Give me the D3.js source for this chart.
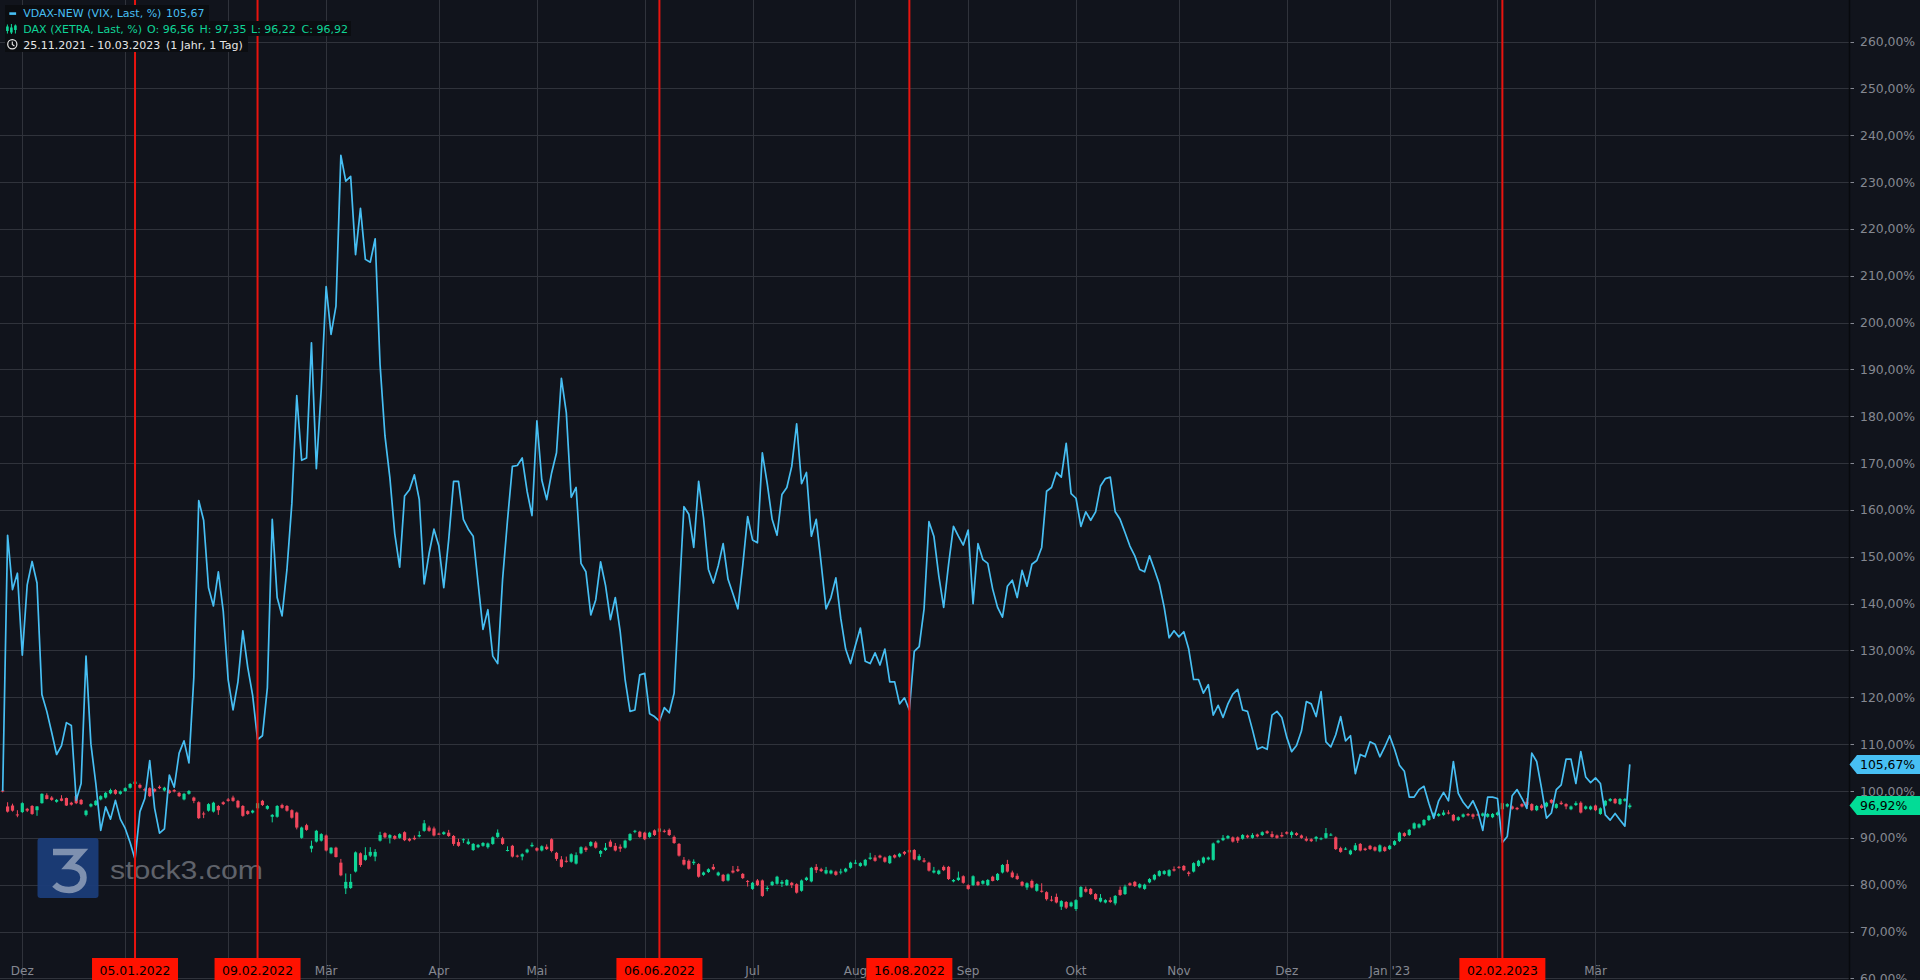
<!DOCTYPE html>
<html><head><meta charset="utf-8">
<script src="https://cdn.jsdelivr.net/npm/d3@7"></script>
<style>
html,body{margin:0;padding:0;background:#11141c;overflow:hidden}
svg{display:block}
text{font-family:"DejaVu Sans",sans-serif}
</style></head><body>
<svg id="chart" width="1920" height="980"></svg>
<script>
// ---------------- data ----------------
const tradingStart = "2021-11-25", tradingEnd = "2023-03-10";
const closedDays = ["2021-12-24","2021-12-31","2022-04-15","2022-12-26"];
const monthTickDates = ["2021-12-01","2022-01-03","2022-02-01","2022-03-01","2022-04-01","2022-05-02","2022-06-01","2022-07-01","2022-08-01","2022-09-01","2022-10-03","2022-11-01","2022-12-01","2023-01-02","2023-02-01","2023-03-01"];
const monthTickLabels = ["Dez","Jan","Feb","Mär","Apr","Mai","Jun","Jul","Aug","Sep","Okt","Nov","Dez","Jan '23","Feb","Mär"];
const markerDates = ["2022-01-05","2022-02-09","2022-06-06","2022-08-16","2023-02-02"];
const markerLabels = ["05.01.2022","09.02.2022","06.06.2022","16.08.2022","02.02.2023"];
const yTicks = [60,70,80,90,100,110,120,130,140,150,160,170,180,190,200,210,220,230,240,250,260];

const vdax = [100.0,154.6,143,146.5,129,144,149,144.4,120.6,117,112.5,107.8,109.7,114.6,114,98,101.6,128.8,110,101.6,
91.6,96.6,94,98,94,92,89,85.4,95.6,98.4,106.5,96.3,91,91.9,103.4,100.8,108.1,110.7,106,124.3,
162,157.8,143.4,139.5,146.8,138.4,123.8,117.3,123.3,134.2,126.4,120.4,111,111.8,122,158,141.3,137.4,147.3,161.4,
184.4,170.6,171.1,195.7,168.8,185.8,207.7,197.5,203.5,235.7,230.2,231.2,214.5,224.4,213.5,212.9,217.9,191,175.8,166.9,
154.9,147.8,163,164.3,167.5,162.2,144.2,150.7,155.9,152.3,143.4,153.6,166.1,166.1,158,155.9,154.4,144.4,134.5,138.7,
128.8,127.2,145.2,157.8,169.3,169.5,171.1,164,158.8,179,166.4,162.2,167.9,172.2,188.1,180.8,162.7,164.8,148.6,146.8,
137.6,140.8,148.9,143.9,136.6,141.3,134,123.8,117,117.3,124.8,125.1,116.5,115.9,114.9,117.8,116.7,120.9,141,160.7,
159.1,152,166.1,158.3,147.3,144.4,148.1,152.8,145.2,142.1,138.9,148.1,158.6,153.6,153,172.2,165.6,158,154.6,163.3,
164.8,169.3,178.4,165.6,168,154.4,158,148.6,138.9,141.3,145.5,136.9,130.3,127.2,131.1,134.8,127.7,127.2,129.5,126.9,
130.3,123.3,123.3,118.6,119.9,117.3,129.8,130.8,138.9,157.5,154.4,146,139.2,148.4,156.5,154.4,152.5,155.7,140,152.8,
149.4,148.6,143.1,139.2,137.1,143.7,145,141.3,147.1,143.7,148.4,149.2,152,164,164.8,168,167,174.2,163.5,162.5,
156.5,159.6,157.8,159.6,165.1,166.7,167,159.6,158,155.2,152.3,150.2,147.3,146.8,150.2,147.3,144.2,139.2,132.7,134.2,
132.9,134,130.3,123.8,123.8,120.9,122.7,116.2,118.3,115.7,118.6,120.7,121.7,117.3,117,113.1,108.9,109.4,108.9,116.2,
117,115.7,111.5,108.4,109.7,112.8,119.1,118.6,115.9,121.2,110.5,109.4,112,115.9,110.7,111.8,103.7,107.8,107.3,110.5,
110,107.3,109.4,111.8,108.9,105.5,104.2,98.7,98.7,100.3,101,97.4,94.2,97.9,99.7,97.9,106.3,99.5,97.6,96.3,
97.9,95.6,91.6,98.7,98.7,98.4,89,90.3,99,100.3,98.4,96.3,108.1,106.3,100.5,94.2,95.3,100.3,101.3,106.8,
106.8,101.6,108.4,103,101.8,102.8,101.6,94.9,93.8,95.2,93.8,92.5,105.67];

const daxOpen = [100.1,96.7,96.9,95.0,95.5,96.2,96.8,95.9,97.4,99.1,98.6,97.7,98.4,98.5,97.5,98.9,98.1,94.9,96.7,97.0,
98.2,98.6,99.5,100.2,99.4,100.0,100.7,101.5,101.3,100.4,100.6,100.4,100.9,100.1,100.1,100.2,99.6,98.2,99.4,98.6,
97.6,95.2,95.8,95.6,96.8,97.6,98.2,98.6,97.9,96.8,95.7,95.4,96.3,97.9,96.2,94.5,94.5,97.0,96.8,95.9,
95.4,90.0,92.7,87.7,89.2,89.4,90.5,86.7,87.9,84.7,79.2,79.3,82.8,86.7,85.3,86.2,86.0,89.4,91.0,90.0,
90.4,90.0,91.2,89.8,90.0,90.3,91.5,92.2,92.0,90.9,90.8,91.1,90.4,89.1,89.5,88.7,87.4,88.0,88.3,88.0,
88.7,90.2,89.9,87.3,88.3,86.2,86.0,86.9,88.2,87.8,87.3,88.1,89.7,86.8,85.4,85.1,84.9,84.5,86.7,87.9,
88.3,89.0,86.6,87.4,89.2,88.3,88.1,87.9,89.5,91.3,91.3,91.1,90.2,91.6,91.3,91.5,91.7,90.2,88.7,85.3,
85.1,84.6,84.4,82.1,82.7,83.8,82.0,82.1,80.9,83.0,83.3,82.3,80.8,79.1,80.9,80.9,79.1,79.9,80.2,80.2,
79.9,80.4,80.1,78.7,81.0,80.7,83.8,83.3,82.4,82.4,82.8,82.6,82.8,83.6,84.6,84.0,84.1,85.5,85.8,86.2,
85.8,84.6,86.3,86.0,87.0,86.9,87.4,85.3,85.2,84.7,82.6,82.3,83.8,83.8,80.7,81.0,81.8,79.9,79.9,80.6,
80.2,79.9,81.7,81.0,82.6,84.4,82.6,81.9,80.6,79.4,80.8,78.7,78.7,78.4,76.8,77.4,75.3,76.3,75.4,74.8,
77.4,79.1,79.1,78.0,76.4,76.2,76.7,76.0,78.9,78.0,80.3,80.6,79.4,79.1,80.5,81.1,81.9,82.3,81.9,83.3,
83.8,84.0,82.6,82.8,84.0,84.7,85.4,85.3,89.0,89.5,89.9,90.1,90.1,89.8,90.5,90.0,90.7,90.6,91.4,90.8,
90.5,90.6,91.2,90.6,91.0,90.5,89.8,89.7,89.8,89.7,90.0,90.6,90.1,87.8,87.6,86.5,87.4,88.7,87.7,88.3,
88.0,87.1,88.0,87.6,88.5,89.3,91.0,90.6,92.0,92.2,92.7,93.8,94.7,94.7,94.9,95.4,94.9,93.8,94.5,95.1,
95.0,95.0,94.7,94.5,94.4,94.9,96.1,96.7,96.7,96.4,97.2,97.7,97.2,95.9,96.9,96.7,98.1,96.4,97.5,97.2,
96.1,97.0,97.5,96.2,96.1,96.9,95.1,96.9,97.9,98.3,97.2,97.9,96.56];

const daxHigh = [100.3,97.6,97.3,95.9,97.6,96.4,97.0,96.8,99.5,99.5,98.9,98.3,99.1,98.6,97.7,99.2,98.3,96.0,97.4,98.1,
99.1,99.8,100.5,100.4,100.1,100.8,101.7,102.2,101.6,100.7,100.8,100.6,101.2,100.9,100.3,100.4,99.8,99.6,100.2,98.8,
97.8,95.6,97.4,97.7,97.0,97.8,98.5,99.0,98.1,97.0,95.9,96.0,97.6,98.1,97.0,95.1,97.0,97.3,97.0,96.1,
95.6,92.4,93.0,89.4,91.7,91.0,90.7,88.0,88.1,85.5,82.4,82.3,87.1,86.9,88.0,88.0,87.6,91.3,91.2,90.8,
90.6,91.0,91.4,90.0,90.5,91.4,93.8,92.6,92.4,91.1,91.4,91.7,90.6,89.8,89.9,89.8,88.9,88.7,89.1,89.0,
90.3,91.8,90.2,88.2,88.5,86.4,86.7,87.7,89.0,88.0,88.4,88.6,89.9,87.0,86.1,86.0,86.7,86.9,88.2,88.2,
89.3,89.3,87.4,88.9,89.6,88.9,88.6,89.6,91.0,91.7,91.5,91.3,91.3,91.8,92.2,91.8,92.0,90.5,88.9,85.9,
85.4,85.4,84.6,82.8,83.5,84.4,82.8,82.3,82.4,84.0,84.0,82.5,81.0,80.6,81.2,81.1,79.7,80.8,81.9,81.0,
81.2,80.6,80.3,81.1,81.7,83.8,84.4,83.6,83.8,83.2,83.0,83.4,83.6,84.9,85.3,84.8,85.5,86.8,86.3,86.4,
86.0,86.3,86.5,86.8,87.2,87.6,87.6,86.5,85.7,84.9,83.8,83.2,84.1,84.0,81.2,82.8,82.0,80.1,82.0,80.8,
81.0,81.2,81.9,82.5,84.4,85.3,83.0,82.4,80.8,80.5,81.1,80.3,80.3,78.6,77.6,78.1,76.7,76.5,76.4,76.9,
79.7,79.6,79.3,78.2,78.0,76.9,77.3,77.8,79.6,80.0,80.5,80.8,80.3,80.2,81.4,82.3,83.1,83.1,83.3,83.9,
84.0,84.2,82.9,84.8,85.3,86.0,86.0,89.0,89.6,90.6,90.6,90.3,90.3,90.8,90.7,91.0,90.9,91.4,91.6,91.4,
90.7,91.2,91.4,91.5,91.2,90.7,90.3,89.9,90.4,90.1,92.1,91.0,90.3,88.1,88.0,87.5,88.9,88.9,87.9,88.5,
88.2,88.6,88.2,88.5,89.5,91.3,91.2,91.9,93.3,93.1,94.0,94.9,95.4,95.3,95.9,95.9,95.1,94.6,95.2,95.3,
95.2,95.2,95.4,95.3,95.3,95.6,97.6,97.4,96.9,96.6,97.4,98.5,97.4,97.0,97.2,97.7,98.3,97.4,97.9,97.4,
96.9,97.8,97.8,96.9,96.9,97.1,96.5,98.1,98.5,98.5,98.5,98.5,97.35];

const daxLow = [99.7,95.4,95.6,94.4,95.3,95.5,94.9,94.7,97.3,98.2,97.9,97.5,97.8,96.8,96.9,97.2,97.0,94.6,96.5,96.8,
98.0,98.4,99.3,99.2,99.2,99.8,100.5,101.3,100.5,99.9,98.7,99.7,100.4,99.9,99.4,99.7,98.7,98.0,99.2,97.4,
94.0,94.2,95.6,95.4,94.9,97.0,97.7,97.7,96.3,94.5,94.9,95.2,96.1,96.8,96.0,93.3,94.3,96.2,95.6,94.1,
91.8,89.8,91.5,86.9,89.0,89.2,87.1,86.5,85.8,81.8,78.0,79.1,82.6,83.8,85.1,85.9,85.0,89.2,89.9,88.8,
89.6,89.8,89.3,89.2,89.5,90.1,91.3,91.3,90.3,90.6,90.6,90.2,88.3,88.1,88.9,88.5,87.2,87.8,88.1,87.7,
88.5,90.0,88.5,87.1,85.8,85.8,85.2,86.7,88.0,87.1,87.1,87.4,86.9,85.1,83.6,84.7,84.7,84.3,86.5,87.0,
88.1,87.7,85.9,87.2,88.0,87.1,87.0,87.7,89.3,91.0,90.0,89.5,90.0,90.4,91.1,91.1,90.4,88.7,86.0,84.1,
83.2,84.2,81.5,81.9,82.5,83.1,81.8,80.6,80.7,82.4,82.7,81.2,79.6,78.9,79.7,77.4,78.6,79.7,80.0,79.5,
79.7,79.3,78.1,78.5,80.8,80.5,82.5,82.7,82.2,82.2,81.9,82.2,82.6,83.4,84.4,83.8,83.9,85.3,84.9,85.6,
84.7,84.4,85.6,85.8,86.3,86.7,85.2,85.1,84.7,82.8,82.4,82.1,82.9,81.0,80.5,80.8,80.2,78.9,79.7,79.7,
80.0,79.7,80.7,80.8,82.4,82.6,81.4,81.0,79.6,78.9,79.2,78.5,78.3,76.6,76.4,76.0,74.6,74.8,75.2,74.4,
77.2,78.3,77.8,76.7,76.2,76.0,76.1,75.6,77.6,77.8,79.7,79.5,79.2,78.9,80.3,80.9,81.7,82.1,81.7,82.8,
83.4,82.9,81.8,82.6,83.8,84.5,85.2,85.1,88.8,89.3,89.7,89.0,88.9,89.6,89.9,89.8,90.1,90.4,90.8,90.0,
89.8,90.1,90.7,90.0,90.4,89.8,89.2,89.1,89.2,89.5,89.8,90.4,87.4,86.8,87.4,86.3,87.2,87.1,87.2,87.4,
87.1,86.9,87.0,87.4,88.3,89.1,90.2,90.4,91.8,92.0,92.5,93.6,94.5,94.5,94.7,95.0,93.5,93.6,94.3,94.6,
94.0,94.7,94.5,94.3,94.2,94.7,95.9,96.5,96.0,95.9,96.5,96.8,95.7,95.7,96.2,96.5,97.3,96.2,97.0,96.1,
95.9,96.8,95.2,96.0,95.9,95.7,94.9,96.7,97.7,97.2,97.0,97.7,96.22];

const daxClose = [100.0,95.6,95.8,94.9,97.4,95.8,95.1,96.7,99.4,98.3,98.1,98.1,97.9,96.9,97.1,97.4,97.2,95.8,97.2,97.9,
98.9,99.6,100.2,99.4,99.9,100.6,101.5,102.0,100.7,100.1,98.9,99.9,100.6,100.7,99.6,99.9,98.9,99.4,100.0,97.9,
94.2,95.0,97.2,97.5,95.9,97.2,97.9,97.9,96.5,94.7,95.1,95.8,97.4,97.0,96.8,94.9,96.8,96.4,95.8,94.3,
92.2,92.2,91.7,88.3,91.5,90.8,87.3,87.9,85.9,82.0,80.6,80.6,86.9,84.2,86.3,87.0,87.0,90.6,90.1,90.6,
89.8,90.8,89.5,89.4,89.7,90.6,93.1,91.5,90.5,90.8,91.2,90.4,88.7,88.3,89.7,89.2,88.7,88.5,88.9,88.8,
90.1,91.1,88.7,87.4,86.0,86.0,86.5,87.5,88.5,87.3,88.2,87.6,87.2,85.5,83.8,84.9,86.5,86.3,88.0,87.4,
89.1,87.9,87.2,87.9,88.1,87.3,87.7,89.4,90.8,91.5,90.2,89.7,91.1,90.6,92.0,91.3,90.6,88.9,86.2,84.3,
83.4,84.9,81.7,82.6,83.3,83.3,82.6,80.8,82.2,82.6,82.9,81.4,80.6,80.4,79.9,77.6,79.3,80.6,81.7,80.6,
81.0,79.9,78.3,80.9,81.5,83.6,83.1,82.9,83.1,83.0,82.1,82.8,83.4,84.7,84.7,84.6,85.3,85.8,85.1,85.8,
84.9,86.1,85.8,86.6,86.6,87.4,85.4,86.1,84.9,83.0,83.0,83.0,83.1,81.2,81.0,81.5,80.4,79.1,81.8,79.9,
80.8,81.0,80.8,82.3,84.2,82.8,81.6,81.2,79.8,80.3,79.4,80.1,78.5,76.9,76.6,76.2,76.5,75.1,76.2,76.7,
79.5,78.5,78.0,76.9,77.2,76.7,76.3,77.6,77.8,79.6,79.9,79.7,80.1,80.0,81.2,82.1,82.9,82.9,83.1,83.0,
83.6,83.1,82.3,84.6,85.1,85.8,85.8,88.8,89.4,90.0,90.4,89.2,89.4,90.6,90.1,90.6,90.3,91.2,91.0,90.2,
90.0,90.3,90.9,91.2,90.6,90.0,89.4,89.3,90.2,89.9,91.0,90.7,87.6,87.0,87.7,87.3,88.4,87.3,87.4,87.6,
87.3,88.4,87.2,88.3,89.3,91.1,90.4,91.7,93.1,92.9,93.8,94.7,95.2,95.1,95.4,95.2,93.7,94.4,95.0,94.8,
94.5,94.9,95.2,95.1,95.1,95.4,97.4,97.2,96.2,96.1,96.7,97.0,95.9,96.8,96.4,97.5,97.5,97.2,97.2,96.7,
96.7,97.4,95.4,96.7,96.7,95.9,96.3,97.9,98.3,97.4,98.3,98.3,96.92];

// ---------------- setup ----------------
const W = 1920, H = 980, plotRight = 1849.5;
const isoFmt = d3.utcFormat("%Y-%m-%d");
const days = d3.utcDays(new Date(tradingStart), d3.utcDay.offset(new Date(tradingEnd), 1))
  .filter(d => d.getUTCDay() % 6 !== 0 && !closedDays.includes(isoFmt(d)))
  .map(isoFmt);

const de = d3.formatLocale({decimal: ",", thousands: ".", grouping: [3], currency: ["", "€"]});
const f2 = de.format(".2f");

const x = d3.scalePoint().domain(days).range([2.7, 1629.8]);
const y = d3.scaleLinear().domain([100, 260]).range([791, 41.56]);

const C = {
  bg: "#11141c", grid: "#30333b", axisText: "#858891",
  blue: "#47bff3", green: "#0fd597", red: "#f2475c", marker: "#e8140f"
};
const tagHalf = 43;

const svg = d3.select("#chart");
svg.append("rect").attr("width", W).attr("height", H).attr("fill", C.bg);

// grid
const grid = svg.append("g");
grid.selectAll("line.h").data(yTicks).join("line")
  .attr("x1", 0).attr("x2", plotRight).attr("y1", d => Math.round(y(d)) + 0.5).attr("y2", d => Math.round(y(d)) + 0.5)
  .attr("stroke", C.grid).attr("stroke-width", 1);
grid.selectAll("line.v").data(monthTickDates).join("line")
  .attr("y1", 0).attr("y2", H).attr("x1", d => Math.round(x(d)) + 0.5).attr("x2", d => Math.round(x(d)) + 0.5)
  .attr("stroke", C.grid).attr("stroke-width", 1);

// watermark
const wm = svg.append("g");
wm.append("rect").attr("x", 37.5).attr("y", 838).attr("width", 61).attr("height", 60).attr("rx", 3)
  .attr("fill", "#1b3c78").attr("opacity", 0.95);
wm.append("path").attr("d", "M53 852 H81 L68.5 866 C78 866 83.5 871 83.5 877.5 C83.5 884.5 77.5 890 69 890 C63 890 58 888 54.5 884.5")
  .attr("fill", "none").attr("stroke", "#8a9ab6").attr("stroke-width", 6.5).attr("opacity", 0.9);
wm.append("text").attr("x", 110).attr("y", 878.5).text("stock3.com")
  .style("font-family", "'Liberation Sans', Arial, sans-serif").style("font-size", "26px")
  .attr("textLength", 153).attr("lengthAdjust", "spacingAndGlyphs")
  .attr("fill", "#5f626a");

// candles
const candles = svg.append("g");
const bodyW = 3.2;
days.forEach((d, i) => {
  const o = daxOpen[i], h = daxHigh[i], l = daxLow[i], c = daxClose[i];
  const col = c >= o ? C.green : C.red;
  const cx = x(d);
  candles.append("line").attr("x1", cx).attr("x2", cx).attr("y1", y(h)).attr("y2", y(l))
    .attr("stroke", col).attr("stroke-width", 1);
  const top = y(Math.max(o, c)), bot = y(Math.min(o, c));
  candles.append("rect").attr("x", cx - bodyW / 2).attr("width", bodyW)
    .attr("y", top).attr("height", Math.max(1, bot - top)).attr("fill", col);
});

// VDAX line
svg.append("path").datum(vdax)
  .attr("d", d3.line().x((v, i) => x(days[i])).y(v => y(v)))
  .attr("fill", "none").attr("stroke", C.blue).attr("stroke-width", 1.7).attr("stroke-linejoin", "round");

// marker lines
svg.selectAll("line.marker").data(markerDates).join("line")
  .attr("x1", d => x(d)).attr("x2", d => x(d)).attr("y1", 0).attr("y2", 958)
  .attr("stroke", C.marker).attr("stroke-width", 2);

// month labels (those covered by a marker tag are not shown, as in the reference)
const visibleMonths = monthTickDates
  .map((d, i) => ({d, label: monthTickLabels[i]}))
  .filter(m => markerDates.every(md => Math.abs(x(m.d) - x(md)) > tagHalf + 8));
svg.selectAll("text.month").data(visibleMonths).join("text")
  .attr("x", m => x(m.d)).attr("y", 974.5).attr("text-anchor", "middle")
  .style("font-size", "12px").attr("fill", C.axisText)
  .text(m => m.label);

// marker tags
const tags = svg.selectAll("g.tag").data(markerDates).join("g")
  .attr("transform", d => `translate(${x(d)},0)`);
tags.append("rect").attr("x", -tagHalf).attr("y", 958).attr("width", tagHalf * 2).attr("height", 22).attr("fill", "#ff1200");
tags.append("text").attr("x", 0).attr("y", 974.5).attr("text-anchor", "middle")
  .style("font-size", "12.4px").attr("fill", "#000").text((d, i) => markerLabels[i]);

// right axis
svg.append("line").attr("x1", plotRight).attr("x2", plotRight).attr("y1", 0).attr("y2", H)
  .attr("stroke", "#080a0e").attr("stroke-width", 1.5);
const ax = svg.append("g");
ax.selectAll("line").data(yTicks).join("line")
  .attr("x1", 1850.5).attr("x2", 1854).attr("y1", d => Math.round(y(d)) + 0.5).attr("y2", d => Math.round(y(d)) + 0.5)
  .attr("stroke", C.axisText);
ax.selectAll("text").data(yTicks).join("text")
  .attr("x", 1860).attr("y", d => y(d) + 4.5)
  .style("font-size", "12.4px").attr("fill", C.axisText)
  .text(d => f2(d) + "%");

// price tags
function priceTag(v, fill) {
  const cy = y(v);
  svg.append("path")
    .attr("d", `M1849.5 ${cy} L1857 ${cy - 9.5} H1920 V${cy + 9.5} H1857 Z`)
    .attr("fill", fill);
  svg.append("text").attr("x", 1860).attr("y", cy + 4.5)
    .style("font-size", "12.4px").attr("fill", "#000").text(f2(v) + "%");
}
priceTag(vdax[vdax.length - 1], C.blue);
priceTag(daxClose[daxClose.length - 1], "#02dc96");

// legend
const lg = svg.append("g");
const boxFill = "#0b0d11";
lg.append("rect").attr("x", 5).attr("y", 5).attr("width", 204).attr("height", 16).attr("fill", boxFill);
lg.append("rect").attr("x", 5).attr("y", 21).attr("width", 346).attr("height", 15).attr("fill", boxFill);
lg.append("rect").attr("x", 5).attr("y", 36).attr("width", 243).attr("height", 16).attr("fill", boxFill);

lg.append("rect").attr("x", 9.3).attr("y", 12.3).attr("width", 6.8).attr("height", 2.6).attr("fill", C.blue);
const lt = (xx, yy, txt, col) => lg.append("text").attr("x", xx).attr("y", yy).style("font-size", "11px").attr("fill", col).text(txt);
lt(23.3, 17.4, "VDAX-NEW (VIX, Last, %)", C.blue);
lt(166, 17.4, f2(vdax[vdax.length - 1]), C.blue);

// candle icon
[[7.4, 24.5, 33.5, 26.5, 31], [11.4, 24, 34, 27.5, 32.5], [15.4, 24.5, 33.5, 25.5, 30]].forEach(a => {
  lg.append("line").attr("x1", a[0]).attr("x2", a[0]).attr("y1", a[1]).attr("y2", a[2]).attr("stroke", C.green).attr("stroke-width", 1);
  lg.append("rect").attr("x", a[0] - 1.3).attr("y", a[3]).attr("width", 2.6).attr("height", a[4] - a[3]).attr("fill", C.green);
});
const last = daxOpen.length - 1;
lt(23.3, 32.8, "DAX (XETRA, Last, %)", C.green);
lt(147, 32.8, "O: " + f2(daxOpen[last]), C.green);
lt(199.5, 32.8, "H: " + f2(daxHigh[last]), C.green);
lt(251, 32.8, "L: " + f2(daxLow[last]), C.green);
lt(301.5, 32.8, "C: " + f2(daxClose[last]), C.green);

lg.append("circle").attr("cx", 12.3).attr("cy", 44.3).attr("r", 4.6).attr("fill", "none").attr("stroke", "#e6e6e6").attr("stroke-width", 1.2);
lg.append("path").attr("d", "M12.3 41.6 V44.5 L14.4 46").attr("fill", "none").attr("stroke", "#e6e6e6").attr("stroke-width", 1.1);
lt(23.3, 48.5, "25.11.2021 - 10.03.2023", "#e6e6e6");
lt(166, 48.5, "(1 Jahr, 1 Tag)", "#e6e6e6");
</script>
</body></html>
